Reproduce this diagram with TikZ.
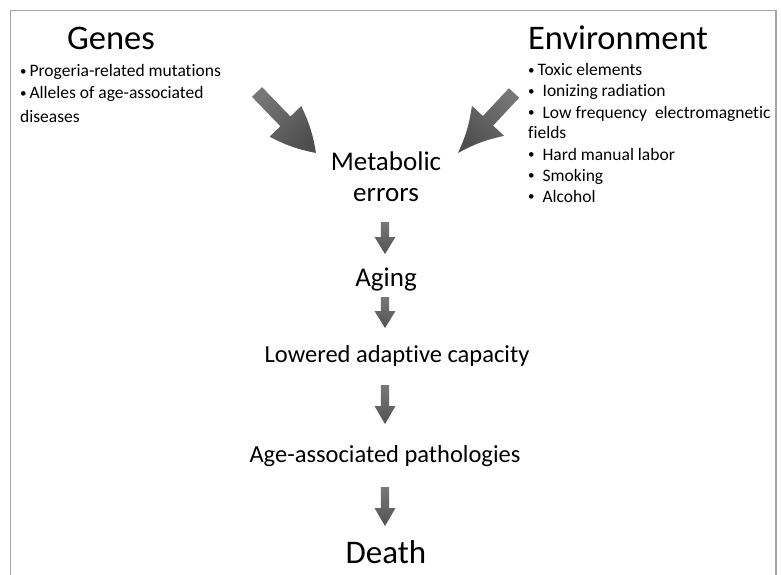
\documentclass[tikz,border=0pt]{standalone}
\usepackage{fontspec}
\setmainfont{Carlito}[Ligatures=NoCommon]
\usetikzlibrary{calc}

\definecolor{framegray}{RGB}{165,165,165}
\definecolor{arrowlight}{RGB}{118,118,118}
\definecolor{arrowdark}{RGB}{78,78,78}
\definecolor{smalltop}{RGB}{120,120,120}
\definecolor{smallbot}{RGB}{82,82,82}

% Filled block arrow from #2 to #3: half shaft width #4, half head width #5, head length #6
\newcommand\blockarrow[6][]{%
  \coordinate (bahead) at ($(#3)!#6!(#2)$);
  \path[#1] ($(#2)!#4!90:(#3)$) -- ($(bahead)!#4!90:(#3)$) -- ($(bahead)!#5!90:(#3)$)
    -- (#3) -- ($(bahead)!#5!-90:(#3)$) -- ($(bahead)!#4!-90:(#3)$)
    -- ($(#2)!#4!-90:(#3)$) -- cycle;}

% Same, with the head's edges swept by #7 degrees
\newcommand\sweptarrow[7][]{%
  \coordinate (bahead) at ($(#3)!#6!(#2)$);
  \path[#1] ($(#2)!#4!90:(#3)$) -- ($(bahead)!#4!90:(#3)$) -- ($(bahead)!#5!90:(#3)$)
    to[bend left=#7] (#3) to[bend left=#7] ($(bahead)!#5!-90:(#3)$) -- ($(bahead)!#4!-90:(#3)$)
    -- ($(#2)!#4!-90:(#3)$) -- cycle;}

\newcommand\bul{\raisebox{1.2pt}{\fontsize{13}{13}\selectfont•}}

\tikzset{
  title/.style={font=\fontsize{34.5}{40}\selectfont, anchor=base, inner sep=0pt},
  item/.style={font=\fontsize{17.5}{21}\selectfont, anchor=base west, inner sep=0pt},
  stage/.style={font=\fontsize{27}{31}\selectfont, anchor=base, inner sep=0pt},
  stagesm/.style={font=\fontsize{24.5}{29}\selectfont, anchor=base, inner sep=0pt},
  bigshade/.style={top color=arrowlight, bottom color=arrowdark},
  smallshade/.style={top color=smalltop, bottom color=smallbot},
}

\begin{document}
\begin{tikzpicture}[x=1pt, y=-1pt]
\useasboundingbox (0,0) rectangle (781,575);
\fill[white] (0,0) rectangle (781,575);

% outer frame, open at the bottom
\draw[framegray, line width=1.5pt] (10.5,575) -- (10.5,10.5) -- (776,10.5) -- (776,575);

% headings
\node[title] (genes) at (111,50) {Genes};
\node[title] (env) at (618,50) {Environment};

% gene factors
\node[item] (g1) at (20,77) {\bul\,Progeria-related mutations};
\node[item] (g2) at (20,99) {\bul\,Alleles of age-associated};
\node[item] (g3) at (20,122) {diseases};

% environmental factors
\node[item] (e1) at (528,76) {\bul\,Toxic elements};
\node[item] (e2) at (528,97) {\bul\ \ Ionizing radiation};
\node[item] (e3) at (528,118) {\bul\ \ Low frequency\ \ electromagnetic};
\node[item] (e4) at (528,139) {fields};
\node[item] (e5) at (528,160) {\bul\ \ Hard manual labor};
\node[item] (e6) at (528,181) {\bul\ \ Smoking};
\node[item] (e7) at (528,202) {\bul\ \ Alcohol};

% chain of stages
\node[stage] (met) at (386,170) {Metabolic};
\node[stage] (err) at (386,201) {errors};
\node[stage] (aging) at (386,286) {Aging};
\node[stagesm] (lac) at (397,362) {Lowered adaptive capacity};
\node[stagesm] (aap) at (385,462) {Age-associated pathologies};
\node[title, font=\fontsize{33}{38}\selectfont] (death) at (386,563) {Death};

% arrow end points
\coordinate (gA) at (257,92);
\coordinate (gB) at (316,153);
\coordinate (eA) at (514,93);
\coordinate (eB) at (458,153);
\coordinate (s1A) at (385,222);
\coordinate (s1B) at (385,254);
\coordinate (s2A) at (385,297);
\coordinate (s2B) at (385,328);
\coordinate (s3A) at (385,385);
\coordinate (s3B) at (385,424);
\coordinate (s4A) at (385,487);
\coordinate (s4B) at (385,526);

% influences converging on metabolic errors
\sweptarrow[bigshade, shading angle=43]{gA}{gB}{7pt}{22pt}{44pt}{8}
\sweptarrow[bigshade, shading angle=-43]{eA}{eB}{7pt}{22pt}{44pt}{-8}

% downward steps
\blockarrow[smallshade]{s1A}{s1B}{4.2pt}{10.5pt}{17pt}
\blockarrow[smallshade]{s2A}{s2B}{4.2pt}{10.5pt}{17pt}
\blockarrow[smallshade]{s3A}{s3B}{4.2pt}{10.5pt}{18pt}
\blockarrow[smallshade]{s4A}{s4B}{4.2pt}{10.5pt}{18pt}
\end{tikzpicture}
\end{document}
